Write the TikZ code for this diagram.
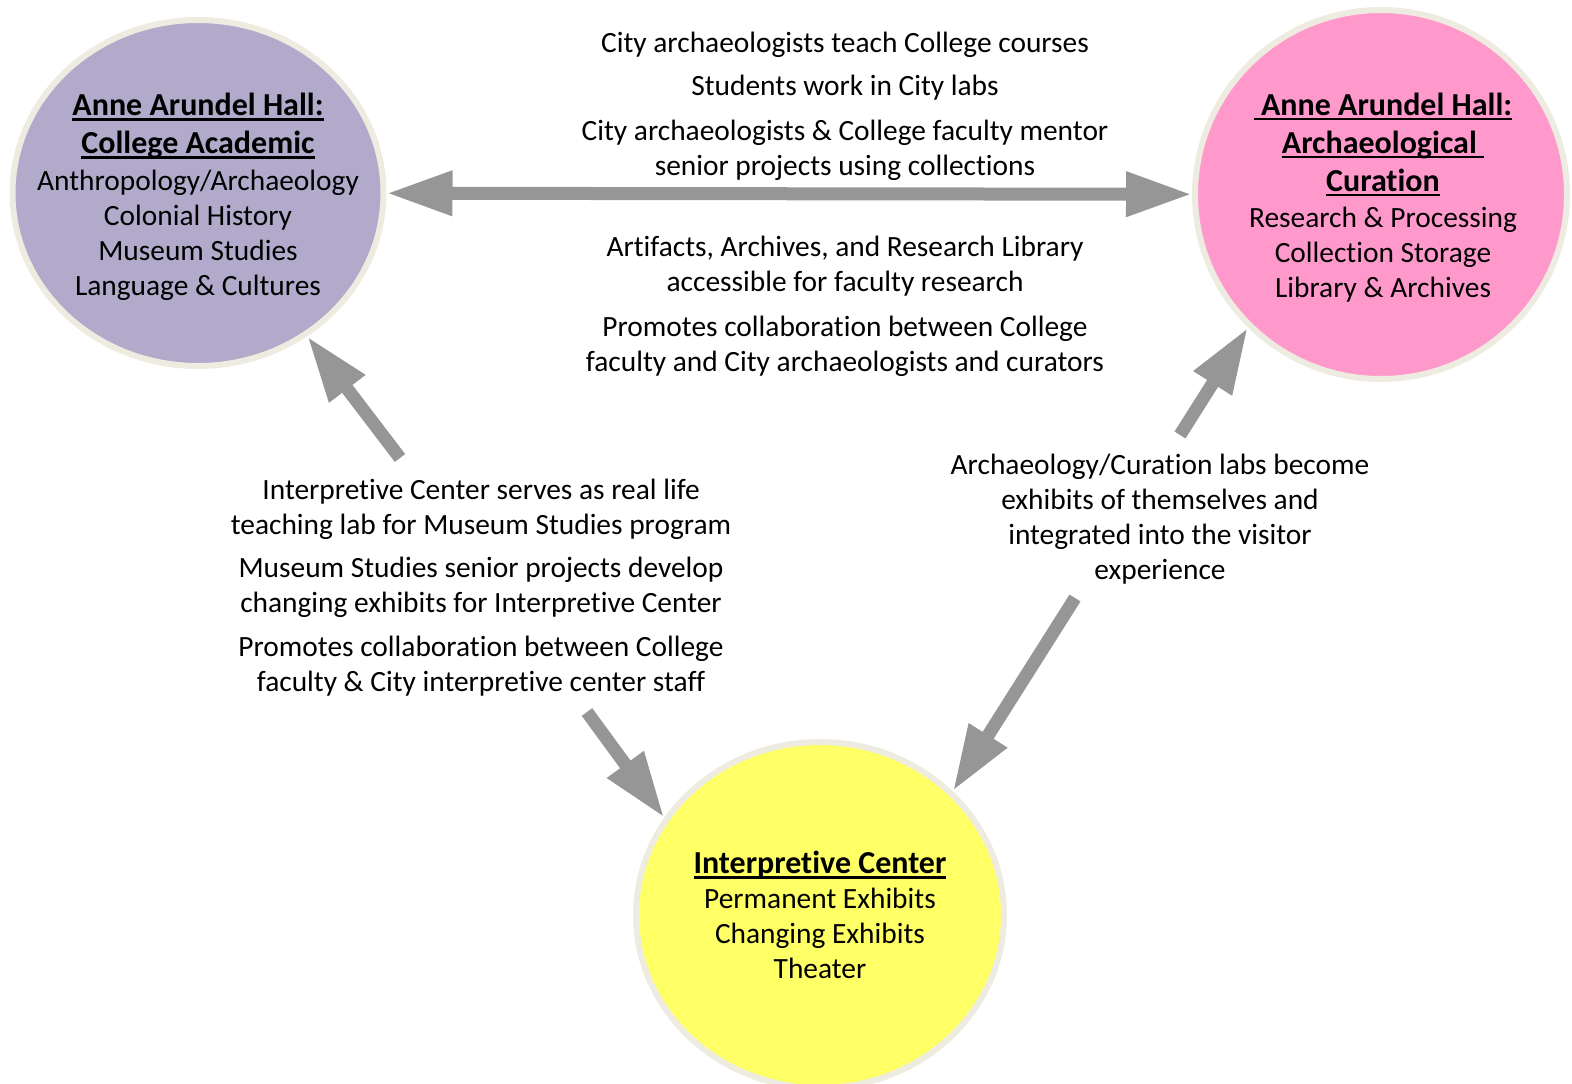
\documentclass[tikz,border=0pt]{standalone}
\usepackage{fontspec}
\setmainfont{Carlito}[Ligatures=NoCommon]
\usetikzlibrary{arrows.meta, shapes.geometric, positioning}

\definecolor{lavender}{HTML}{B2AACA}
\definecolor{rosa}{HTML}{FF99CC}
\definecolor{lemon}{HTML}{FFFF66}
\definecolor{rim}{HTML}{EEECE1}
\definecolor{arrowgray}{HTML}{969696}

% bold underlined heading line
\newcommand{\hd}[1]{{\fontsize{32}{38}\selectfont\bfseries
    \setbox0\hbox{#1}\makebox[0pt][l]{\rule[-5pt]{\wd0}{2.6pt}}\box0}}

\begin{document}
\begin{tikzpicture}[
    x=1pt, y=1pt,
    font=\fontsize{29.4}{35}\selectfont,
    hall/.style={
        ellipse,
        draw=rim,
        line width=6pt,
        inner sep=0pt
    },
    halltext/.style={align=center, inner sep=0pt},
    note/.style={align=center, inner sep=0pt},
    >={Triangle[length=66pt, width=42pt]},
    fat/.style={draw=arrowgray, line width=13pt}
]
\useasboundingbox (0,0) rectangle (1572,-1084);
\clip (0,0) rectangle (1572,-1084);

% --- Circulos ---
\node[hall, fill=lavender, minimum width=371pt, minimum height=346pt] (acad) at (198,-193) {};
\node[hall, fill=rosa, minimum width=372pt, minimum height=369pt] (cur) at (1381,-194.5) {};
\node[hall, fill=lemon, minimum width=368pt, minimum height=346pt] (ic) at (820,-915) {};

\node[halltext] (acadtxt) at (198,-197) {\hd{Anne Arundel Hall:}\\[3pt] \hd{College Academic}\\[2pt]
    Anthropology/Archaeology\\ Colonial History\\ Museum Studies\\ Language \& Cultures};
\node[halltext] (curtxt) at (1383,-197.5) {\hd{\ Anne Arundel Hall:}\\[3pt] \hd{Archaeological\ }\\[3pt] \hd{Curation}\\[1pt]
    Research \& Processing\\ Collection Storage\\ Library \& Archives};
\node[halltext] (ictxt) at (ic) {\hd{Interpretive Center}\\ Permanent Exhibits\\
    Changing Exhibits\\ Theater};

% --- Textos superiores ---
\node[note] (t1) at (845,-44.5) {City archaeologists teach College courses};
\node[note] (t2) at (845,-87.5) {Students work in City labs};
\node[note] (t3) at (845,-150) {City archaeologists \& College faculty mentor\\ senior projects using collections};
\node[note] (b1) at (845,-266.5) {Artifacts, Archives, and Research Library\\ accessible for faculty research};
\node[note] (b2) at (845,-346) {Promotes collaboration between College\\ faculty and City archaeologists and curators};

% --- Textos izquierda ---
\node[note] (l1) at (481,-509) {Interpretive Center serves as real life\\ teaching lab for Museum Studies program};
\node[note] (l2) at (481,-587) {Museum Studies senior projects develop\\ changing exhibits for Interpretive Center};
\node[note] (l3) at (481,-666.5) {Promotes collaboration between College\\ faculty \& City interpretive center staff};

% --- Texto derecha ---
\node[note] (r1) at (1160,-519.5) {Archaeology/Curation labs become\\ exhibits of themselves and\\
    integrated into the visitor\\ experience};

% --- Flechas ---
\coordinate (tailA) at (400,-458);
\coordinate (tailB) at (587,-712);
\coordinate (tailC) at (1075,-598);
\coordinate (tailD) at (1180,-435);

\draw[fat, <->] (acad) -- (cur);
\draw[fat, ->] (tailA) -- (acad);
\draw[fat, ->] (tailB) -- (ic.148);
\draw[fat, ->] (tailC) -- (ic.43);
\draw[fat, ->] (tailD) -- (cur.225);

\end{tikzpicture}
\end{document}
